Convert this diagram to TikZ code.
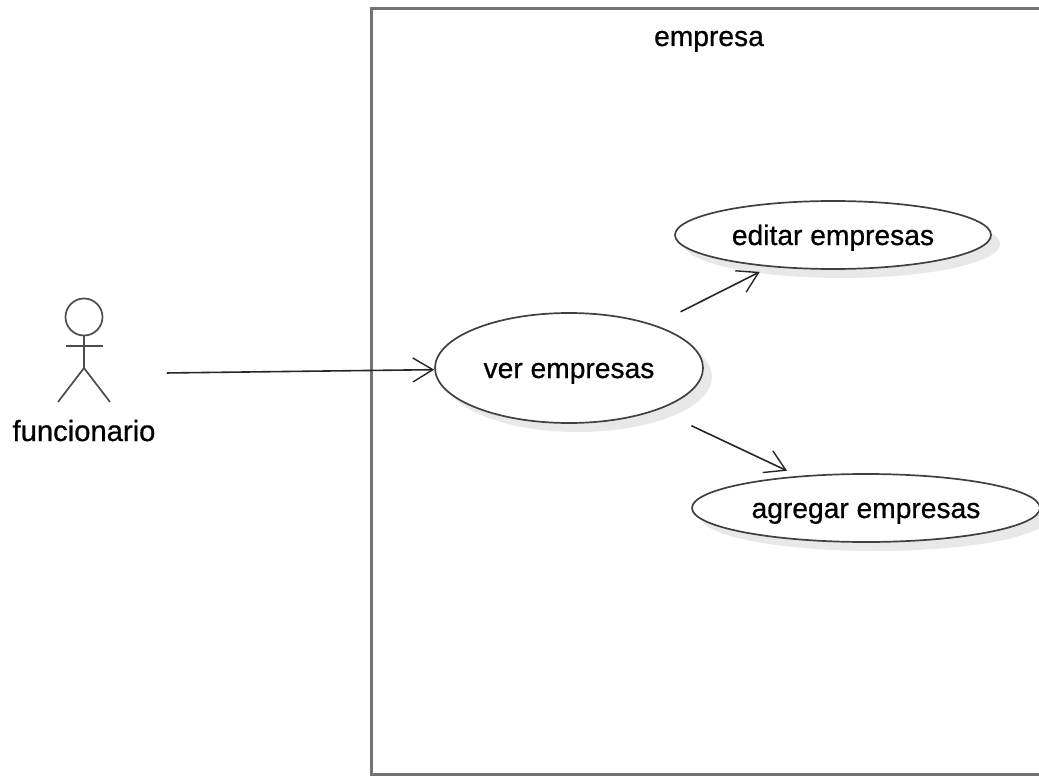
\documentclass[tikz,border=0pt]{standalone}
\usepackage{xcolor}
\usepackage{fontspec}
\setmainfont[FakeBold=0.7]{Liberation Sans}
\usetikzlibrary{shapes.geometric,shadows,arrows.meta}

\begin{document}
\begin{tikzpicture}[
    x=1pt, y=-1pt,
    every node/.style={font=\fontsize{28.2}{30}\selectfont, text=black, text height=20pt, text depth=0pt},
    assoc/.style={draw=black!85, line width=1.6pt, -{Straight Barb[length=20pt,width=24pt,line width=1.4pt]}},
    limb/.style={draw=black!70, line width=1.7pt}
]
\tikzstyle{usecase} = [ellipse, draw=black!75, line width=1.7pt, fill=white, inner sep=0pt,
    drop shadow={shadow xshift=9pt, shadow yshift=-9pt, fill=black!9, opacity=1}]
\useasboundingbox (0,0) rectangle (1039,776);
\clip (0,0) rectangle (1039,776);

% system frame, open on the right
\draw[draw=black!55, line width=3pt] (1039,9) -- (371,9) -- (371,774) -- (1039,774);
\node (empresa) at (709,36) {empresa};

% use cases
\node[usecase, minimum width=268pt, minimum height=110pt] (ver) at (569,368) {ver empresas};
\node[usecase, minimum width=316pt, minimum height=68pt] (editar) at (833,235) {editar empresas};
\node[usecase, minimum width=348pt, minimum height=68pt] (agregar) at (866,508) {agregar empresas};

% actor
\node[circle, draw=black!70, line width=1.7pt, minimum size=37pt, inner sep=0pt, text height=0pt] (head) at (84,317) {};
\coordinate (hip) at (84,368);
\coordinate (armL) at (66,346);
\coordinate (armR) at (103,346);
\coordinate (footL) at (58,402);
\coordinate (footR) at (110,402);
\coordinate (actor) at (84,374);
\draw[limb] (head) -- (hip);
\draw[limb] (armL) -- (armR);
\draw[limb] (footL) -- (hip) -- (footR);
\node[font=\fontsize{29.2}{30}\selectfont] (funcionario) at (84,431) {funcionario};

% associations
\draw[assoc, shorten <=83pt] (actor) -- (ver);
\draw[assoc, shorten <=29pt, shorten >=11pt] (ver) -- (editar);
\draw[assoc, shorten <=37pt, shorten >=12pt] (ver) -- (agregar);
\end{tikzpicture}
\end{document}
